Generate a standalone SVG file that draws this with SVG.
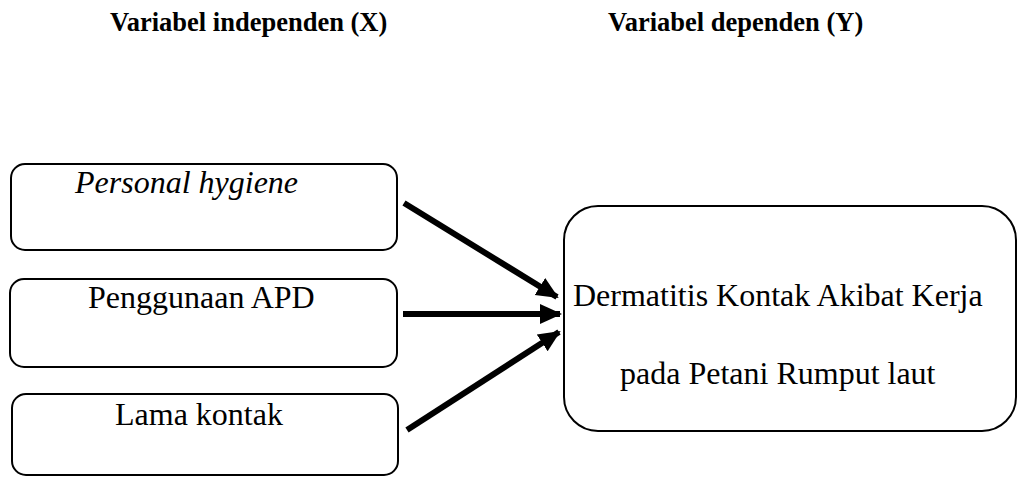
<svg xmlns="http://www.w3.org/2000/svg" width="1023" height="477" viewBox="0 0 1023 477">
  <style>
    .box { fill: #ffffff; stroke: #000000; stroke-width: 2; }
    .hdr { font-family: "Liberation Serif", "Times New Roman", serif; font-weight: bold; font-size: 26.5px; fill: #000; }
    .lbl { font-family: "Liberation Serif", "Times New Roman", serif; font-size: 32px; fill: #000; }
    .conn { stroke: #000000; stroke-width: 6; fill: none; marker-end: url(#ah); }
  </style>
  <defs>
    <marker id="ah" markerUnits="userSpaceOnUse" markerWidth="22" markerHeight="22" refX="20" refY="11" orient="auto">
      <polygon points="0,1 22,11 0,21" fill="#000000"/>
    </marker>
  </defs>
  <rect width="1023" height="477" fill="#ffffff"/>
  <g id="header-x"><text class="hdr" x="110" y="31">Variabel independen (X)</text></g>
  <g id="header-y"><text class="hdr" x="608" y="31">Variabel dependen (Y)</text></g>

  <g id="node-personal-hygiene">
    <rect class="box" x="11" y="164" width="386" height="86" rx="14" ry="14"/>
    <text class="lbl" x="75" y="193" font-style="italic">Personal hygiene</text>
  </g>
  <g id="node-penggunaan-apd">
    <rect class="box" x="10" y="279" width="387" height="88" rx="14" ry="14"/>
    <text class="lbl" x="88" y="308">Penggunaan APD</text>
  </g>
  <g id="node-lama-kontak">
    <rect class="box" x="12" y="394" width="386" height="81" rx="14" ry="14"/>
    <text class="lbl" x="115" y="425">Lama kontak</text>
  </g>
  <g id="node-dermatitis">
    <rect class="box" x="564" y="206" width="452" height="225" rx="34" ry="34"/>
    <text class="lbl" x="573" y="306">Dermatitis Kontak Akibat Kerja</text>
    <text class="lbl" x="620" y="384">pada Petani Rumput laut</text>
  </g>

  <g id="connectors">
    <line class="conn" x1="404" y1="203" x2="557" y2="297"/>
    <line class="conn" x1="403" y1="314" x2="560" y2="314"/>
    <line class="conn" x1="407" y1="430" x2="559" y2="332"/>
  </g>
</svg>
